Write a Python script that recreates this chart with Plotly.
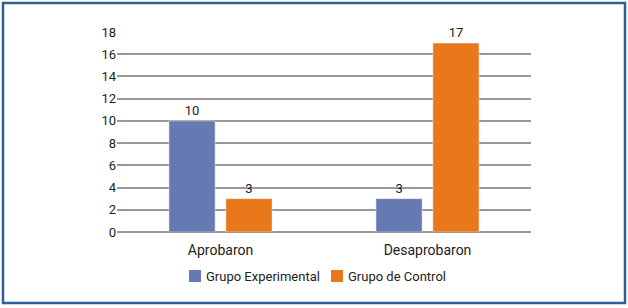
import plotly.graph_objects as go

categories = ["Aprobaron", "Desaprobaron"]
experimental = [10, 3]
control = [3, 17]
series_names = ["Grupo Experimental", "Grupo de Control"]
series_colors = ["#6579b3", "#e8781a"]
tick_vals = list(range(0, 19, 2))

W, H = 628, 308
L, R, T, B = 117, 97, 32, 76
pw, ph = W - L - R, H - T - B

font = "Roboto, Lato, sans-serif"
fig = go.Figure()
for vals, name, col in zip([experimental, control], series_names, series_colors):
    fig.add_trace(go.Bar(x=categories, y=vals, name=name, marker_color=col,
                         text=vals, textposition="outside",
                         textfont=dict(size=13, color="#222222"), cliponaxis=False))

def px_x(p):
    return (p - L) / pw

def px_y(p):
    return (H - B - p) / ph

# custom legend (square swatch + label)
legend_x = [189, 331]
legend_y = 276
shapes = [dict(type="rect", xref="paper", yref="paper",
               x0=px_x(3), x1=px_x(625), y0=px_y(303), y1=px_y(3),
               line=dict(color="#2f5f99", width=2.5), fillcolor="rgba(0,0,0,0)", layer="above")]
annotations = []
for lx, name, col in zip(legend_x, series_names, series_colors):
    shapes.append(dict(type="rect", xref="paper", yref="paper",
                       x0=px_x(lx), x1=px_x(lx + 12), y0=px_y(legend_y + 6), y1=px_y(legend_y - 6),
                       line=dict(width=0), fillcolor=col))
    annotations.append(dict(xref="paper", yref="paper", x=px_x(lx + 15), y=px_y(legend_y),
                            xanchor="left", yanchor="middle", showarrow=False, text=name,
                            font=dict(size=13, color="#222222")))

fig.update_layout(
    width=W, height=H, autosize=False,
    margin=dict(l=L, r=R, t=T, b=B),
    paper_bgcolor="white", plot_bgcolor="white",
    barmode="group", bargap=0.45, bargroupgap=0.19,
    font=dict(family=font, size=13, color="#222222"),
    showlegend=False,
    xaxis=dict(showgrid=False, showline=False, ticks="", tickfont=dict(size=14), ticklabelstandoff=8),
    yaxis=dict(range=[0, 18], tickvals=tick_vals, showgrid=True, gridcolor="#999999", gridwidth=1.5,
               zeroline=True, zerolinecolor="#999999", zerolinewidth=1.5,
               showline=False, ticks="", tickfont=dict(size=13), ticklen=0),
    shapes=shapes,
    annotations=annotations,
)
fig.write_html("out.html", config={"displayModeBar": False},
               post_script="document.body.style.margin='0';document.body.style.overflow='hidden';")
